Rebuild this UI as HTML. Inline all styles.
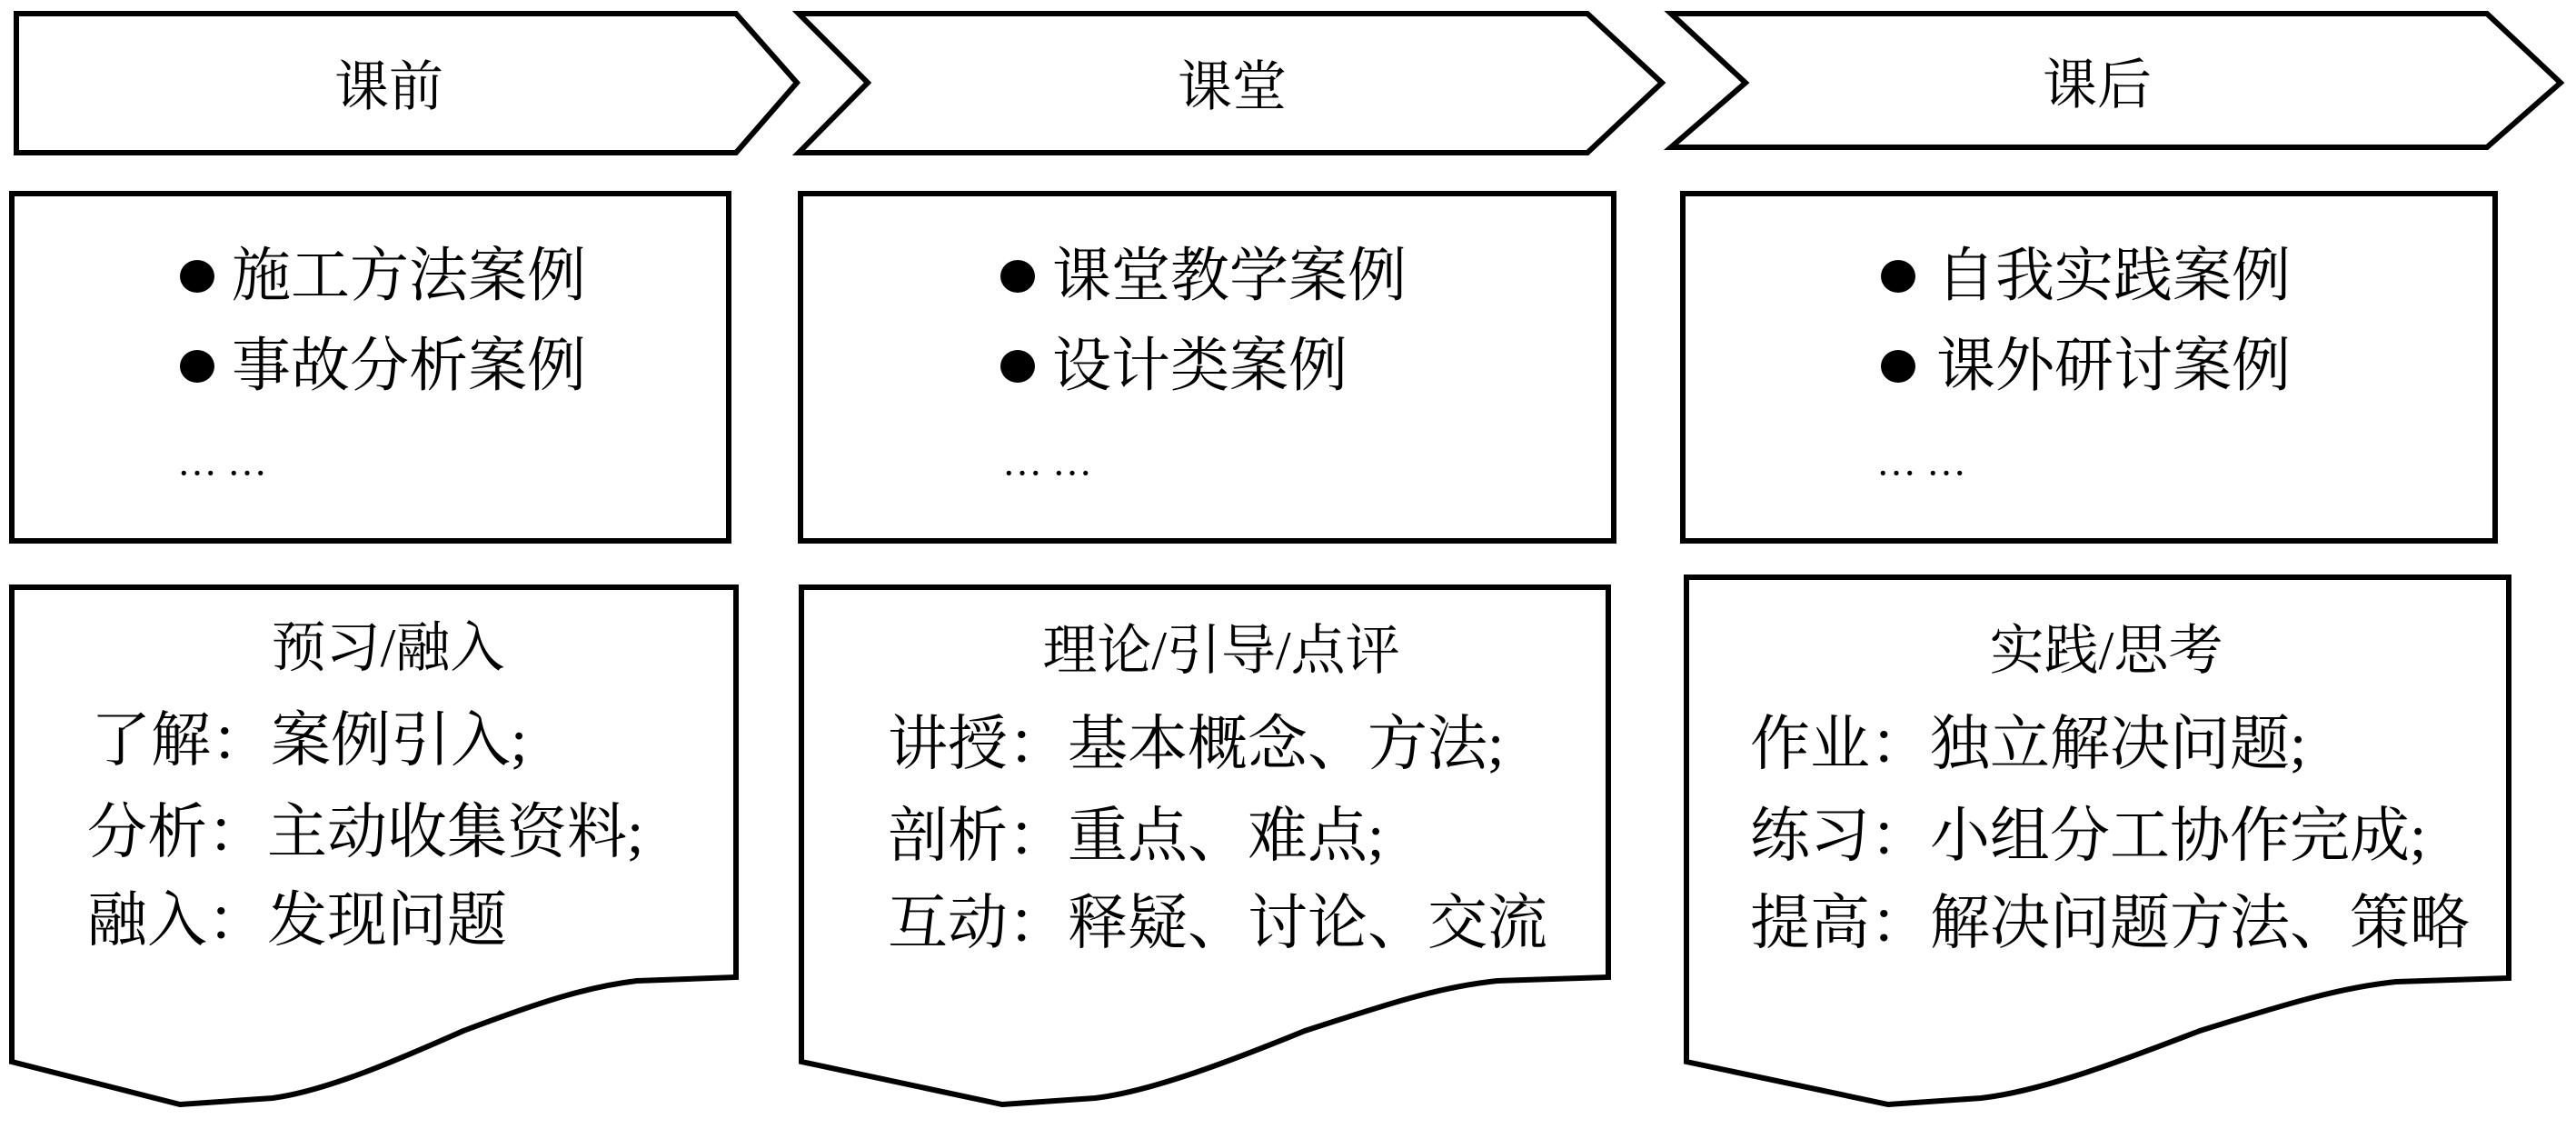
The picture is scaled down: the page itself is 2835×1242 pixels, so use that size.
<!DOCTYPE html>
<html><head><meta charset="utf-8"><style>
html,body{margin:0;padding:0;background:#fff;}
svg{display:block;}
text{font-family:"Liberation Serif","Noto Serif CJK SC",serif;fill:#000;}
</style></head><body>
<svg width="2835" height="1242" viewBox="0 0 2835 1242" xmlns="http://www.w3.org/2000/svg">
<g fill="none" stroke="#000" stroke-width="6" stroke-linejoin="miter">
<polygon points="18,15 810,15 877,91 810,168 18,168"/>
<polygon points="879,15 1747,15 1829,91 1747,168 879,168 955,91"/>
<polygon points="1839,15 2737,15 2818,91 2737,162 1839,162 1921,91"/>
<rect x="13" y="213" width="789" height="382"/>
<rect x="881" y="213" width="895" height="382"/>
<rect x="1852" y="213" width="894" height="382"/>
<path d="M13,646 H810 V1075 L701,1079 C650,1085 600,1100 510,1134 C440,1165 360,1200 300,1208 L198,1215 L13,1168 Z"/>
<path d="M882,646 H1770 V1075 L1648,1079 C1590,1085 1540,1100 1436,1134 C1360,1165 1270,1200 1205,1208 L1103,1215 L882,1168 Z"/>
<path d="M1856,635 H2761 V1076 L2637,1080 C2580,1086 2530,1100 2421,1134 C2340,1165 2250,1200 2180,1208 L2078,1215 L1856,1168 Z"/>
</g>
<g font-size="60" text-anchor="middle" dominant-baseline="central">
<text x="428" y="96">课前</text>
<text x="1356" y="96">课堂</text>
<text x="2308" y="94">课后</text>
</g>
<g fill="#000">
<ellipse cx="217" cy="304" rx="19" ry="18"/><ellipse cx="217" cy="403" rx="19" ry="18"/>
<ellipse cx="1120" cy="304" rx="19" ry="18"/><ellipse cx="1120" cy="403" rx="19" ry="18"/>
<ellipse cx="2089" cy="304" rx="19" ry="18"/><ellipse cx="2089" cy="403" rx="19" ry="18"/>
</g>
<g font-size="65" dominant-baseline="central">
<text x="255" y="304">施工方法案例</text>
<text x="255" y="403">事故分析案例</text>
<text x="195" y="508" font-size="44">… …</text>
<text x="1158" y="304">课堂教学案例</text>
<text x="1158" y="403">设计类案例</text>
<text x="1103" y="508" font-size="44">… …</text>
<text x="2131" y="304">自我实践案例</text>
<text x="2131" y="403">课外研讨案例</text>
<text x="2065" y="508" font-size="44">… …</text>
</g>
<g font-size="60" text-anchor="middle" dominant-baseline="central">
<text x="427" y="713">预习/融入</text>
<text x="1344" y="716">理论/引导/点评</text>
<text x="2318" y="716">实践/思考</text>
</g>
<g font-size="66" dominant-baseline="central">
<text x="100" y="815">了解：案例引入;</text>
<text x="96" y="916">分析：主动收集资料;</text>
<text x="96" y="1013">融入：发现问题</text>
<text x="977" y="819">讲授：基本概念、方法;</text>
<text x="977" y="920">剖析：重点、难点;</text>
<text x="977" y="1016">互动：释疑、讨论、交流</text>
<text x="1926" y="819">作业：独立解决问题;</text>
<text x="1926" y="920">练习：小组分工协作完成;</text>
<text x="1926" y="1016">提高：解决问题方法、策略</text>
</g>
</svg>
</body></html>
